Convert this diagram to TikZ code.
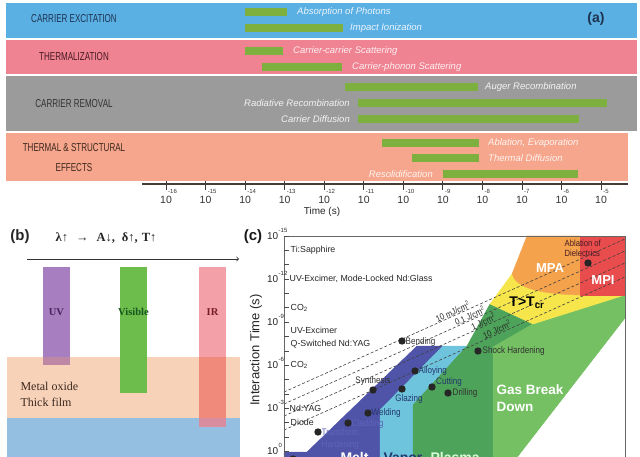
\documentclass[tikz,border=0pt]{standalone}
\usepackage{fontspec}
\setmainfont{Liberation Sans}
\newfontfamily\serifft{Liberation Serif}
\newfontfamily\narrowft[FakeStretch=0.7]{Liberation Sans}
\newfontfamily\slimft[FakeStretch=0.85]{Liberation Sans}
\usepackage{xcolor}
\usetikzlibrary{math}
\definecolor{bandblue}{RGB}{90,175,227}
\definecolor{bandpink}{RGB}{239,131,146}
\definecolor{bandgray}{RGB}{155,155,155}
\definecolor{bandorange}{RGB}{245,166,140}
\definecolor{bargreen}{RGB}{125,176,62}
\definecolor{navytext}{RGB}{30,50,80}
\definecolor{maroontext}{RGB}{70,25,35}
\definecolor{browntext}{RGB}{60,40,30}
\definecolor{axisgray}{RGB}{70,60,55}
\definecolor{oxide}{RGB}{247,210,185}
\definecolor{substrate}{RGB}{148,191,224}
\definecolor{uvpurple}{RGB}{167,127,193}
\definecolor{uvmix}{RGB}{190,135,165}
\definecolor{visgreen}{RGB}{108,189,76}
\definecolor{irpink}{RGB}{243,160,168}
\definecolor{irmix}{RGB}{240,138,122}
\definecolor{irblue}{RGB}{216,140,160}
\definecolor{uvtext}{RGB}{75,35,95}
\definecolor{vistext}{RGB}{25,85,30}
\definecolor{irtext}{RGB}{120,30,40}
\definecolor{meltblue}{RGB}{80,84,168}
\definecolor{vaporcyan}{RGB}{110,196,220}
\definecolor{plasmagreen}{RGB}{78,163,90}
\definecolor{gasgreen}{RGB}{116,192,98}
\definecolor{tcryellow}{RGB}{246,230,76}
\definecolor{mpaorange}{RGB}{244,162,76}
\definecolor{mpired}{RGB}{232,76,76}
\definecolor{appgray}{RGB}{50,50,50}
\definecolor{appnavy}{RGB}{35,55,110}
\definecolor{appblue}{RGB}{95,100,185}

\begin{document}
\begin{tikzpicture}[x=1pt,y=-1pt,
  phase/.style={font=\narrowft\fontsize{11.5}{13}\selectfont, align=center},
  proc/.style={font=\itshape\fontsize{9.5}{10}\selectfont, text=white, text opacity=0.88, inner sep=0pt},
  gbar/.style={fill=bargreen},
  panel/.style={font=\bfseries\fontsize{15}{17}\selectfont},
  beam/.style={font=\serifft\bfseries\fontsize{10.5}{12}\selectfont},
  laser/.style={font=\fontsize{8.8}{13}\selectfont, anchor=west, inner sep=0.5pt, align=left, text=black!85},
  app/.style={font=\slimft\fontsize{9.5}{12}\selectfont, inner sep=0.5pt},
  spot/.style={fill=black!85},
  fluence/.style={dash pattern=on 3pt off 2pt, line width=0.6pt, black!75},
  flabel/.style={font=\slimft\fontsize{9}{10}\selectfont, sloped, above, inner sep=0.2pt, text=black!85},
  region/.style={draw=black!40, line width=0.4pt},
  big/.style={font=\bfseries\fontsize{13.5}{17}\selectfont}
]
\tikzmath{
\dx=39.55;
\dy=14.35;
}
\useasboundingbox (0,0) rectangle (640,457);

% (a) time scales of the processes
\fill[bandblue] (6,3) rectangle (637,38);
\fill[bandpink] (6,40) rectangle (637,74);
\fill[bandgray] (6,76) rectangle (637,131);
\fill[bandorange] (6,133) rectangle (628,181);

\node[phase, text=navytext] (exc) at (74,19) {CARRIER EXCITATION};
\node[phase, text=maroontext] (therm) at (74,57) {THERMALIZATION};
\node[phase, text=black!80] (rem) at (74,104) {CARRIER REMOVAL};
\node[phase, text=browntext] (struct) at (74,148) {THERMAL \& STRUCTURAL};
\node[phase, text=browntext] (eff) at (74,168) {EFFECTS};
\node[panel, text=navytext, font=\bfseries\fontsize{14}{16}\selectfont] (pa) at (596,19) {(a)};

\foreach \a/\b/\y in {245/287/12, 245/343/28, 245/283/51, 262/342/67, 345/478/87,
  358/607/103, 358/579/119, 382/479/143, 412/479/158, 443/578/174}
  \fill[gbar] (\a,\y-4) rectangle (\b,\y+4);

\node[proc, anchor=west] (abs) at (297,12) {Absorption of Photons};
\node[proc, anchor=west] (imp) at (350,28) {Impact Ionization};
\node[proc, anchor=west] (cc) at (293,51) {Carrier-carrier Scattering};
\node[proc, anchor=west] (cp) at (352,67) {Carrier-phonon Scattering};
\node[proc, anchor=west] (aug) at (485,87) {Auger Recombination};
\node[proc, anchor=east] (rad) at (350,103) {Radiative Recombination};
\node[proc, anchor=east] (dif) at (350,119) {Carrier Diffusion};
\node[proc, anchor=west] (abl) at (488,143) {Ablation, Evaporation};
\node[proc, anchor=west] (thd) at (488,158) {Thermal Diffusion};
\node[proc, anchor=east] (res) at (433,174) {Resolidification};

\coordinate (tax0) at (142,184);
\coordinate (tax1) at (628,184);
\draw[line width=1.2pt, axisgray] (tax0) -- (tax1);
\foreach \e [count=\i from 0] in {16,...,5} {
  \draw[line width=0.8pt, axisgray] (166+\i*\dx,181) -- (166+\i*\dx,190);
  \node[font=\fontsize{10.5}{12}\selectfont, text=black!80] (t\e) at (166+\i*\dx,200) {10};
  \node[font=\fontsize{6}{7}\selectfont, anchor=west, inner sep=0pt, text=black!80] (te\e) at (168+\i*\dx,191) {-\e};
}
\node[font=\fontsize{10}{12}\selectfont, text=black!85] (time) at (322,212) {Time (s)};

% (b) wavelength and penetration
\node[panel, text=black!85] (pb) at (20,237) {(b)};
\node[font=\serifft\bfseries\fontsize{12.5}{14}\selectfont, text=black!85] (lam) at (106,238) {λ↑\hspace{8pt}→\hspace{8pt}A↓,\hspace{7pt}δ↑,\hspace{4pt}T↑};
\coordinate (wl0) at (27,259);
\coordinate (wl1) at (239,259);
\draw[->, line width=0.8pt, black!80] (wl0) -- (wl1);

\fill[oxide] (7,357) rectangle (240,418);
\fill[substrate] (7,418) rectangle (240,460);
\fill[uvpurple] (43,267) rectangle (70,357);
\fill[uvmix] (43,357) rectangle (70,365);
\fill[visgreen] (120,267) rectangle (147,393);
\fill[irpink] (199,267) rectangle (226,357);
\fill[irmix] (199,357) rectangle (226,418);
\fill[irblue] (199,418) rectangle (226,427);
\node[beam, text=uvtext] (uv) at (56.5,312) {UV};
\node[beam, text=vistext] (vis) at (133.5,312) {Visible};
\node[beam, text=irtext] (ir) at (212.5,312) {IR};
\node[font=\serifft\fontsize{12}{16}\selectfont, align=left, anchor=west, text=browntext] (film) at (17,394) {Metal oxide\\Thick film};

% (c) processing map
\fill[region, meltblue] (284,460) -- (284,452) -- (307,452) -- (417,346) -- (443,346) -- (380,410) -- (380,460) -- cycle;
\fill[region, vaporcyan] (380,460) -- (380,410) -- (443,346) -- (467,346) -- (413,405) -- (413,460) -- cycle;
\fill[region, plasmagreen] (413,460) -- (413,405) -- (467,346) -- (490,304) -- (533,324) -- (493,347) -- (493,460) -- cycle;
\fill[region, gasgreen] (493,460) -- (493,347) -- (533,324) -- (625,295) -- (625,318) -- (515,460) -- cycle;
\fill[region, tcryellow] (490,304) -- (512,274) .. controls (516,288) and (540,294) .. (580,295) -- (625,295) -- (533,324) -- cycle;
\fill[region, mpaorange] (527,236) -- (580,236) -- (580,295) .. controls (540,294) and (516,288) .. (512,274) -- cycle;
\fill[region, mpired] (580,236) rectangle (625,295);

\foreach \n/\y in {1/392, 2/404, 3/416, 4/430} {
  \coordinate (f\n a) at (284,\y);
  \coordinate (f\n b) at (625,\y-153);
}
\draw[fluence] (f1a) -- (f1b) node[flabel, pos=0.5] (fl1) {10 mJ/cm\textsuperscript{2}};
\draw[fluence] (f2a) -- (f2b) node[flabel, pos=0.55] (fl2) {0.1 J/cm\textsuperscript{2}};
\draw[fluence] (f3a) -- (f3b) node[flabel, pos=0.59] (fl3) {1 J/cm\textsuperscript{2}};
\draw[fluence] (f4a) -- (f4b) node[flabel, pos=0.63] (fl4) {10 J/cm\textsuperscript{2}};

\draw[black!60, line width=0.8pt] (284,460) -- (284,236) -- (625,236) -- (625,460);
\foreach \k in {0,...,15}
  \draw[black!70, line width=0.6pt] (284,236+\k*\dy) -- ++(5,0);
\foreach \k/\e in {0/-15, 3/-12, 6/-9, 9/-6, 12/-3, 15/0} {
  \node[font=\fontsize{10}{11}\selectfont, anchor=east, inner sep=0pt, text=black!85] (ten\k) at (278.5,236+\k*\dy) {10};
  \node[font=\fontsize{6}{7}\selectfont, anchor=south west, inner sep=0pt, text=black!85] (tex\k) at (ten\k.north east) {\e};
}
\node[font=\fontsize{13}{15}\selectfont, rotate=90, text=black!85] (itime) at (256,350) {Interaction Time (s)};
\node[panel, text=black!90] (pc) at (253,237) {(c)};

\node[laser] (ti) at (290,236+1*\dy) {Ti:Sapphire};
\node[laser] (uvx) at (289,236+3*\dy) {UV-Excimer, Mode-Locked Nd:Glass};
\node[laser] (co2a) at (290,236+5*\dy) {CO\textsubscript{2}};
\node[laser] (uvq) at (290,237+7*\dy) {UV-Excimer\\Q-Switched Nd:YAG};
\node[laser] (co2b) at (290,236+9*\dy) {CO\textsubscript{2}};
\node[laser] (ndyag) at (289,236+12*\dy) {Nd:YAG};
\node[laser] (diode) at (290,236+13*\dy) {Diode};

\foreach \p/\x/\y in {bend/402/341, alloy/415/371, synth/373/390, glaze/402/389, cut/432/387,
  drill/448/393, weld/368/413, clad/348/423, trans/318/432, shock/478/351, diel/588/263, solid/293/459}
  \fill[spot] (\x,\y) circle (3.7pt) coordinate (\p);
\node[app, anchor=west, text=appgray] (bendl) at (405,342) {Bending};
\node[app, anchor=west, text=appnavy] (alloyl) at (418,371) {Alloying};
\node[app, text=appgray] (synthl) at (373,381) {Synthesis};
\node[app, text=appnavy] (glazel) at (409,399) {Glazing};
\node[app, text=appnavy] (cutl) at (449,382) {Cutting};
\node[app, anchor=west, text=appgray] (drilll) at (452,393) {Drilling};
\node[app, anchor=west, text=appnavy] (weldl) at (371,413) {Welding};
\node[app, anchor=west, text=appblue] (cladl) at (351,424) {Cladding};
\node[app, anchor=west, align=left, text=appblue] (transl) at (321,439) {Transform.\\Hardening};
\node[app, anchor=west, text=appgray] (shockl) at (482,351) {Shock Hardening};
\node[app, anchor=west, align=left, text=maroontext, font=\slimft\fontsize{9}{10}\selectfont] (diell) at (564,248) {Ablation of\\Dielectrics};

\node[font=\bfseries\fontsize{13}{15}\selectfont, text=white] (mpa) at (550,268) {MPA};
\node[font=\bfseries\fontsize{13}{15}\selectfont, text=white] (mpi) at (603,280) {MPI};
\node[font=\bfseries\fontsize{14}{16}\selectfont, text=black] (tcr) at (527,303) {T>T\textsubscript{cr}};
\node[big, anchor=west, align=left, text=white] (gas) at (493,398) {Gas Break\\Down};
\node[big, anchor=base west, text=white, font=\bfseries\fontsize{14}{16}\selectfont] (melt) at (337,462) {Melt};
\node[big, anchor=base west, text=appnavy, font=\bfseries\fontsize{14}{16}\selectfont] (vapor) at (380,462) {Vapor};
\node[big, anchor=base west, text=green!15!white, font=\bfseries\fontsize{14}{16}\selectfont] (plasma) at (427,462) {Plasma};
\end{tikzpicture}
\end{document}
